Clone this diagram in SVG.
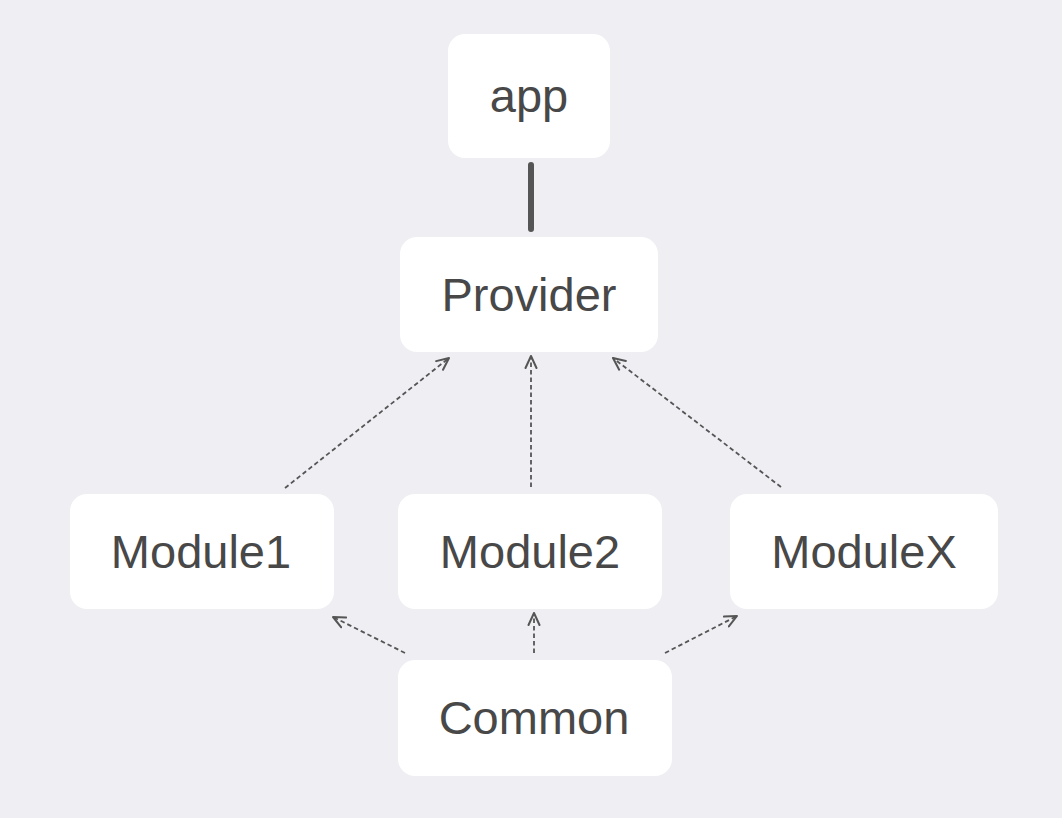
<svg xmlns="http://www.w3.org/2000/svg" width="1062" height="818" viewBox="0 0 1062 818">
<style>
.box{fill:#ffffff;}
.lbl{font-family:"Liberation Sans",Arial,sans-serif;font-size:47px;fill:#484848;text-anchor:middle;}
.dash{stroke:#555555;stroke-width:1.8;stroke-dasharray:4.5 3;fill:none;}
.solid{stroke:#555555;stroke-width:6;stroke-linecap:round;fill:none;}
</style>
<defs>
<marker id="arr" viewBox="0 0 14 14" refX="13" refY="7" markerWidth="14" markerHeight="14" markerUnits="userSpaceOnUse" orient="auto">
<path d="M1,1.5 L13,7 L1,12.5" fill="none" stroke="#555555" stroke-width="2" stroke-linecap="round" stroke-linejoin="round"/>
</marker>
</defs>
<rect width="1062" height="818" fill="#eeeef3"/>
<g id="connectors">
<line class="solid" x1="531" y1="165" x2="531" y2="229"/>
<line class="dash" x1="285" y1="488" x2="449" y2="358" marker-end="url(#arr)"/>
<line class="dash" x1="531" y1="487" x2="531" y2="356" marker-end="url(#arr)"/>
<line class="dash" x1="781" y1="487" x2="613" y2="358" marker-end="url(#arr)"/>
<line class="dash" x1="405" y1="653" x2="333" y2="617" marker-end="url(#arr)"/>
<line class="dash" x1="534" y1="653" x2="534" y2="613" marker-end="url(#arr)"/>
<line class="dash" x1="665" y1="653" x2="737" y2="616" marker-end="url(#arr)"/>
</g>
<g id="app">
<rect class="box" x="448" y="34" width="162" height="124" rx="17"/>
<text class="lbl" x="529" y="112">app</text>
</g>
<g id="provider">
<rect class="box" x="400" y="237" width="258" height="115" rx="17"/>
<text class="lbl" x="529" y="311">Provider</text>
</g>
<g id="module1">
<rect class="box" x="70" y="494" width="264" height="115" rx="17"/>
<text class="lbl" x="201" y="568">Module1</text>
</g>
<g id="module2">
<rect class="box" x="398" y="494" width="264" height="115" rx="17"/>
<text class="lbl" x="530" y="568">Module2</text>
</g>
<g id="moduleX">
<rect class="box" x="730" y="494" width="268" height="115" rx="17"/>
<text class="lbl" x="864" y="568">ModuleX</text>
</g>
<g id="common">
<rect class="box" x="398" y="660" width="274" height="116" rx="17"/>
<text class="lbl" x="534" y="734">Common</text>
</g>
</svg>
